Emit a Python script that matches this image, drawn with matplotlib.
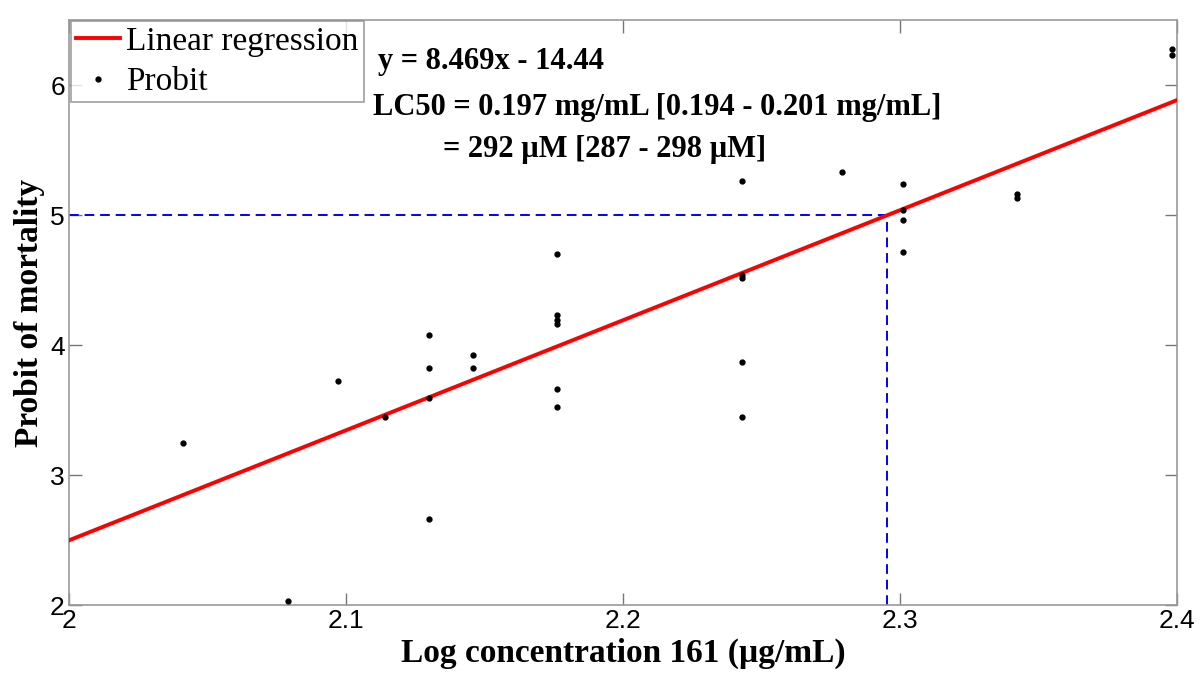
import numpy as np
import matplotlib
matplotlib.use("Agg")
import matplotlib.pyplot as plt

# ---------------- DATA ----------------
# log10 of concentrations (ug/mL) and probit values
log_conc = [2.041, 2.079, 2.097, 2.114,
            2.130, 2.130, 2.130, 2.130,
            2.146, 2.146,
            2.176, 2.176, 2.176, 2.176, 2.176, 2.176,
            2.243, 2.243, 2.243, 2.243, 2.243,
            2.279,
            2.301, 2.301, 2.301, 2.301,
            2.342, 2.342,
            2.398, 2.398]
probit = [3.25, 2.03, 3.72, 3.45,
          4.08, 3.82, 3.59, 2.66,
          3.92, 3.82,
          4.70, 4.23, 4.19, 4.16, 3.66, 3.52,
          5.26, 4.54, 4.52, 3.87, 3.45,
          5.33,
          5.24, 5.04, 4.96, 4.72,
          5.16, 5.13,
          6.28, 6.23]

slope = 8.469
intercept = -14.44
lc50_probit = 5.0

eq_text = "y = 8.469x - 14.44"
lc50_line1 = "LC50 = 0.197 mg/mL [0.194 - 0.201 mg/mL]"
lc50_line2 = "= 292 \u00b5M [287 - 298 \u00b5M]"

# ---------------- PLOT ----------------
serif = ["Liberation Serif", "DejaVu Serif"]
sans = ["Liberation Sans", "DejaVu Sans"]

fig = plt.figure(figsize=(12, 6.73), dpi=100)
ax = fig.add_axes([0.0575, 0.101, 0.9235, 0.869])

x_fit = np.array([2.0, 2.4])
ax.plot(x_fit, slope * x_fit + intercept, color="red", lw=2.8,
        label="Linear regression", zorder=3)
ax.plot(log_conc, probit, ".", color="black", ms=7,
        label="Probit", zorder=4)

x_lc50 = (lc50_probit - intercept) / slope
ax.plot([2.0, x_lc50], [lc50_probit, lc50_probit], "--", color="blue", lw=1.4,
        dashes=(5, 3), zorder=2)
ax.plot([x_lc50, x_lc50], [2.0, lc50_probit], "--", color="blue", lw=1.4,
        dashes=(5, 3), zorder=2)

ax.set_xlim(2.0, 2.4)
ax.set_ylim(2.0, 6.5)
ax.set_xticks([2.0, 2.1, 2.2, 2.3, 2.4])
ax.set_xticklabels(["2", "2.1", "2.2", "2.3", "2.4"])
ax.set_yticks([2, 3, 4, 5, 6])

ax.tick_params(direction="in", top=True, right=True, length=9, width=1,
               color="#777777", labelsize=19, pad=3)
for lbl in ax.get_xticklabels() + ax.get_yticklabels():
    lbl.set_family(sans)
for sp in ax.spines.values():
    sp.set_color("#999999")
    sp.set_linewidth(1.2)

ax.set_xlabel("Log concentration 161 (\u00b5g/mL)", family=serif,
              fontweight="bold", fontsize=24, labelpad=3)
ax.set_ylabel("Probit of mortality", family=serif,
              fontweight="bold", fontsize=24, labelpad=4)

# annotation block (figure pixel positions, measured from the top)
fig.text(378 / 1200, 1 - 62 / 673, eq_text, family=serif,
         fontweight="bold", fontsize=22, va="center")
fig.text(373 / 1200, 1 - 107 / 673, lc50_line1, family=serif,
         fontweight="bold", fontsize=22, va="center")
fig.text(443 / 1200, 1 - 150 / 673, lc50_line2, family=serif,
         fontweight="bold", fontsize=22, va="center")

leg = ax.legend(loc="upper left", bbox_to_anchor=(0.002, 0.998), borderaxespad=0.0,
                prop={"family": serif, "size": 24}, frameon=True, fancybox=False,
                handlelength=1.3, handletextpad=0.2, borderpad=0.15,
                labelspacing=0.3, markerscale=1.0)
leg.get_frame().set_edgecolor("#888888")
leg.get_frame().set_linewidth(1.2)

fig.savefig("out.png", dpi=100)
